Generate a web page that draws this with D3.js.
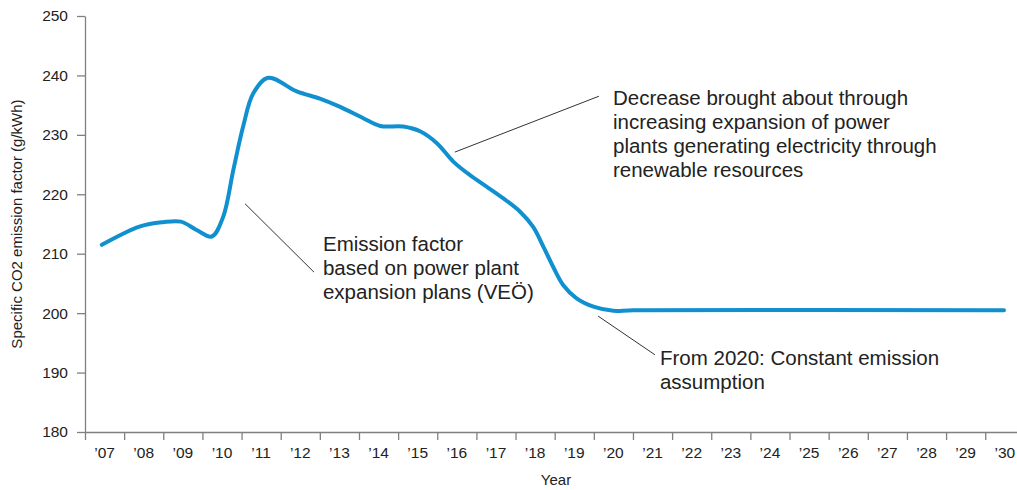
<!DOCTYPE html>
<html>
<head>
<meta charset="utf-8">
<script src="https://cdn.jsdelivr.net/npm/d3@7"></script>
<style>
    body { margin: 0; background: #fff; }
    svg { display: block; font-family: 'Liberation Sans', Arial, sans-serif; }
</style>
</head>
<body>
<svg class="chart"></svg>
<script>
// categories on the x axis
const years = [2007, 2008, 2009, 2010, 2011, 2012, 2013, 2014, 2015, 2016, 2017, 2018,
    2019, 2020, 2021, 2022, 2023, 2024, 2025, 2026, 2027, 2028, 2029, 2030];
const yearLabels = [`’07`, `’08`, `’09`, `’10`, `’11`, `’12`, `’13`, `’14`, `’15`, `’16`, `’17`, `’18`,
    `’19`, `’20`, `’21`, `’22`, `’23`, `’24`, `’25`, `’26`, `’27`, `’28`, `’29`, `’30`];
const yTicks = [180, 190, 200, 210, 220, 230, 240, 250];

// curve: position in years, value in g/kWh
const pointYears = [2007.43, 2008.41, 2008.99, 2009.45, 2009.85, 2010.24, 2010.53, 2010.79,
    2011.04, 2011.30, 2011.68, 2012.41, 2013.00, 2013.52, 2014.11, 2014.54, 2015.13, 2015.56,
    2015.99, 2016.41, 2016.84, 2017.26, 2017.69, 2018.11, 2018.45, 2018.71, 2018.96, 2019.22,
    2019.56, 2019.99, 2020.50, 2021.01, 2030.48];
const emission = [211.5, 214.6, 215.3, 215.4, 214.0, 212.9, 216.2, 224.1,
    231.4, 237.0, 239.6, 237.3, 236.1, 234.7, 232.8, 231.5, 231.4, 230.6,
    228.6, 225.5, 223.2, 221.3, 219.3, 217.1, 214.5, 211.2, 207.8, 204.7,
    202.5, 201.1, 200.4, 200.5, 200.5];

// notes: leader line from/to and text anchor, in chart units
const notes = [
    { from: [2011.09, 218.4], to: [2012.85, 206.9], at: [2013.08, 210.5],
        lines: [`Emission factor`, `based on power plant`, `expansion plans (VEÖ)`] },
    { from: [2016.45, 227.1], to: [2020.13, 236.5], at: [2020.49, 235.0],
        lines: [`Decrease brought about through`, `increasing expansion of power`,
            `plants generating electricity through`, `renewable resources`] },
    { from: [2020.11, 199.5], to: [2021.56, 193.0], at: [2021.69, 191.3],
        lines: [`From 2020: Constant emission`, `assumption`] },
];

const width = 1017;
const height = 490;
const plotLeft = 85;
const plotTop = 16;
const plotBottom = 432;
const bandWidth = 39.14;
const plotRight = plotLeft + years.length * bandWidth;

const axisColor = `#808080`;
const textColor = `#222`;
const lineColor = `#1190cf`;

const chart = d3.select(`.chart`)
    .attr(`width`, width)
    .attr(`height`, height);

const xScale = d3.scaleLinear()
    .domain([years[0], years[years.length - 1] + 1])
    .range([plotLeft, plotRight]);

const xBand = d3.scaleBand()
    .domain(years)
    .range([plotLeft, plotRight]);

const yScale = d3.scaleLinear()
    .domain([180, 250])
    .range([plotBottom, plotTop]);

const styleAxis = (g) => {
    g.attr(`font-family`, null).attr(`font-size`, null);
    g.selectAll(`.domain`).attr(`stroke`, axisColor).attr(`stroke-width`, 1.3);
    g.selectAll(`.tick line`).attr(`stroke`, axisColor).attr(`stroke-width`, 1.3);
    g.selectAll(`.tick text`).attr(`fill`, textColor).style(`font-size`, `15.5px`);
};

// x tick marks sit between the years
chart.append(`g`)
    .attr(`transform`, `translate(0, ${plotBottom})`)
    .call(d3.axisBottom(xScale)
        .tickValues(years)
        .tickFormat(``)
        .tickSize(8)
        .tickSizeOuter(0))
    .call(styleAxis);

// x labels centred in each year
chart.append(`g`)
    .attr(`transform`, `translate(0, ${plotBottom})`)
    .call(d3.axisBottom(xBand)
        .tickFormat((d, i) => yearLabels[i])
        .tickSize(0)
        .tickPadding(15))
    .call(styleAxis)
    .call(g => g.select(`.domain`).remove());

chart.append(`g`)
    .attr(`transform`, `translate(${plotLeft}, 0)`)
    .call(d3.axisLeft(yScale)
        .tickValues(yTicks)
        .tickSize(8)
        .tickSizeOuter(0)
        .tickPadding(9))
    .call(styleAxis);

// axis titles
chart.append(`text`)
    .attr(`x`, 556)
    .attr(`y`, 485)
    .attr(`text-anchor`, `middle`)
    .attr(`fill`, textColor)
    .style(`font-size`, `15px`)
    .text(`Year`);

chart.append(`text`)
    .attr(`transform`, `translate(22, ${(plotTop + plotBottom) / 2}) rotate(-90)`)
    .attr(`text-anchor`, `middle`)
    .attr(`fill`, textColor)
    .style(`font-size`, `15px`)
    .text(`Specific CO2 emission factor (g/kWh)`);

// the emission curve
const line = d3.line()
    .x((d, i) => xScale(pointYears[i]))
    .y(d => yScale(d))
    .curve(d3.curveCatmullRom.alpha(0.5));

chart.append(`path`)
    .datum(emission)
    .attr(`d`, line)
    .attr(`fill`, `none`)
    .attr(`stroke`, lineColor)
    .attr(`stroke-width`, 4)
    .attr(`stroke-linecap`, `round`)
    .attr(`stroke-linejoin`, `round`);

// annotations
notes.forEach(note => {
    chart.append(`line`)
        .attr(`x1`, xScale(note.from[0]))
        .attr(`y1`, yScale(note.from[1]))
        .attr(`x2`, xScale(note.to[0]))
        .attr(`y2`, yScale(note.to[1]))
        .attr(`stroke`, `#333`)
        .attr(`stroke-width`, 1);

    chart.append(`text`)
        .attr(`fill`, textColor)
        .style(`font-size`, `20.5px`)
        .selectAll(`tspan`)
        .data(note.lines)
        .enter()
        .append(`tspan`)
        .attr(`x`, xScale(note.at[0]))
        .attr(`y`, (d, i) => yScale(note.at[1]) + i * 24)
        .text(d => d);
});
</script>
</body>
</html>
